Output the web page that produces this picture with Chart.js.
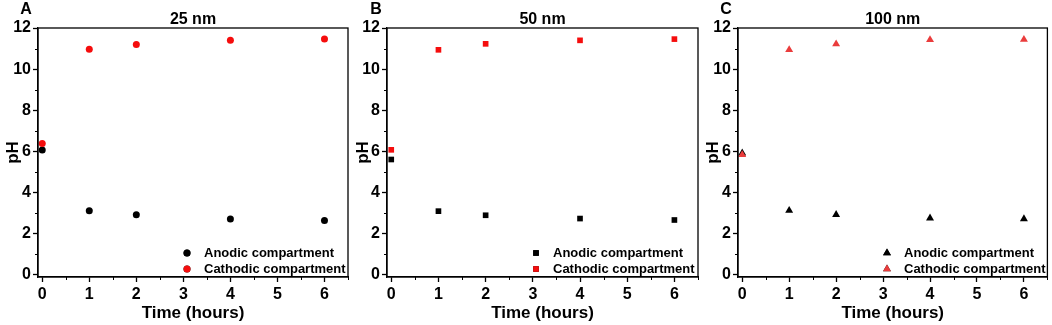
<!DOCTYPE html>
<html>
<head>
<meta charset="utf-8">
<script src="https://cdn.jsdelivr.net/npm/chart.js@4"></script>
<style>
  body { margin: 0; background: #fff; }
  .panel { position: absolute; top: 0; width: 352px; height: 325px; }
</style>
</head>
<body>
<div class="panel" style="left:0px"><canvas id="grA"></canvas></div>
<div class="panel" style="left:350px"><canvas id="grB"></canvas></div>
<div class="panel" style="left:700px"><canvas id="grC"></canvas></div>
<script>
const timeHours = [0, 1, 2, 4, 6]
const xTicks = [0, 1, 2, 3, 4, 5, 6]
const yTicks = [0, 2, 4, 6, 8, 10, 12]

const anodic25 = [6.07, 3.12, 2.93, 2.72, 2.65]
const cathodic25 = [6.39, 10.97, 11.2, 11.41, 11.47]
const anodic50 = [5.61, 3.1, 2.9, 2.74, 2.67]
const cathodic50 = [6.08, 10.94, 11.23, 11.4, 11.46]
const anodic100 = [5.92, 3.13, 2.93, 2.76, 2.72]
const cathodic100 = [5.84, 10.94, 11.22, 11.43, 11.44]

const nombresSerie = ["Anodic compartment", "Cathodic compartment"]
const fuente = "'Liberation Sans', Arial, sans-serif"

const toPoints = (valores) => timeHours.map((t, i) => ({ x: t, y: valores[i] }))

// marco, ticks menores, letra, titulo y leyenda
const decoracion = {
  id: "decoracion",
  afterDraw(chart, args, opts) {
    const ctx = chart.ctx
    const area = chart.chartArea
    const sx = chart.scales.x
    const sy = chart.scales.y
    ctx.save()
    ctx.strokeStyle = "#000"
    ctx.lineWidth = 1.3
    ctx.strokeRect(area.left, area.top, area.right - area.left, area.bottom - area.top)

    ctx.lineWidth = 1
    ctx.beginPath()
    for (let v = 0.5; v <= 6.5; v += 1) {
      const px = Math.round(sx.getPixelForValue(v)) + 0.5
      ctx.moveTo(px, area.bottom)
      ctx.lineTo(px, area.bottom + 3)
    }
    for (let v = 1; v <= 11; v += 2) {
      const py = Math.round(sy.getPixelForValue(v)) + 0.5
      ctx.moveTo(area.left, py)
      ctx.lineTo(area.left - 3, py)
    }
    ctx.stroke()

    ctx.fillStyle = "#000"
    ctx.textBaseline = "middle"
    ctx.textAlign = "center"
    ctx.font = "bold 16px " + fuente
    ctx.fillText(opts.letra, 26, 10)
    ctx.fillText(opts.titulo, (area.left + area.right) / 2, 20)

    // leyenda
    ctx.font = "bold 13px " + fuente
    ctx.textAlign = "left"
    const filas = [253, 269]
    chart.data.datasets.forEach((ds) => {
      const fila = ds.filaLeyenda
      const mx = area.left + 149
      const my = filas[fila]
      Chart.helpers.drawPoint(ctx, {
        pointStyle: ds.pointStyle,
        radius: ds.pointRadius,
        rotation: 0,
        borderWidth: 0
      }, mx, my)
      ctx.fillStyle = ds.backgroundColor
      ctx.fill()
      ctx.fillStyle = "#000"
      ctx.fillText(nombresSerie[fila], area.left + 166, my)
    })
    ctx.restore()
  }
}

const graficoPH = (idGrafico, letra, titulo, estilo, radio, rojo, anodic, cathodic, anchoY, padDer) => {
  const data = {
    datasets: [
      {
        label: nombresSerie[1],
        data: toPoints(cathodic),
        backgroundColor: rojo,
        borderColor: rojo,
        borderWidth: 0,
        pointStyle: estilo,
        pointRadius: radio,
        showLine: false,
        order: 0,
        filaLeyenda: 1
      },
      {
        label: nombresSerie[0],
        data: toPoints(anodic),
        backgroundColor: "#000",
        borderColor: "#000",
        borderWidth: 0,
        pointStyle: estilo,
        pointRadius: radio,
        showLine: false,
        order: 1,
        filaLeyenda: 0
      }
    ]
  }

  const config = {
    type: "scatter",
    data: data,
    options: {
      responsive: true,
      maintainAspectRatio: false,
      animation: false,
      events: [],
      layout: { padding: { left: 0, top: 28, right: padDer, bottom: 0 } },
      plugins: {
        legend: { display: false },
        tooltip: { enabled: false },
        decoracion: { letra: letra, titulo: titulo }
      },
      scales: {
        x: {
          type: "linear",
          min: -0.09,
          max: 6.5,
          afterBuildTicks: (s) => { s.ticks = xTicks.map((v) => ({ value: v })) },
          afterFit: (s) => { s.height = 48 },
          grid: { drawOnChartArea: false, drawTicks: true, tickLength: 5, color: "#000", tickWidth: 1.3 },
          border: { display: true, color: "#000", width: 1.3 },
          ticks: { color: "#000", padding: 3, maxRotation: 0, font: { family: fuente, size: 16, weight: "bold" } },
          title: {
            display: true,
            text: "Time (hours)",
            color: "#000",
            padding: { top: 0, bottom: 1 },
            font: { family: fuente, size: 17, weight: "bold" }
          }
        },
        y: {
          type: "linear",
          min: -0.1,
          max: 12,
          afterBuildTicks: (s) => { s.ticks = yTicks.map((v) => ({ value: v })) },
          afterFit: (s) => { s.width = anchoY },
          grid: { drawOnChartArea: false, drawTicks: true, tickLength: 5, color: "#000", tickWidth: 1.3 },
          border: { display: true, color: "#000", width: 1.3 },
          ticks: { color: "#000", padding: 2, font: { family: fuente, size: 16, weight: "bold" } },
          title: {
            display: true,
            text: "pH",
            color: "#000",
            padding: { top: 3, bottom: 0 },
            font: { family: fuente, size: 17, weight: "bold" }
          }
        }
      }
    },
    plugins: [decoracion]
  }
  return new Chart(document.getElementById(idGrafico), config)
}

graficoPH("grA", "A", "25 nm", "circle", 3.5, "#f50d0d", anodic25, cathodic25, 38, 2)
graficoPH("grB", "B", "50 nm", "rect", 4, "#f50d0d", anodic50, cathodic50, 37, 3)
graficoPH("grC", "C", "100 nm", "triangle", 4.6, "#ea3c3c", anodic100, cathodic100, 38, 2)
</script>
</body>
</html>
